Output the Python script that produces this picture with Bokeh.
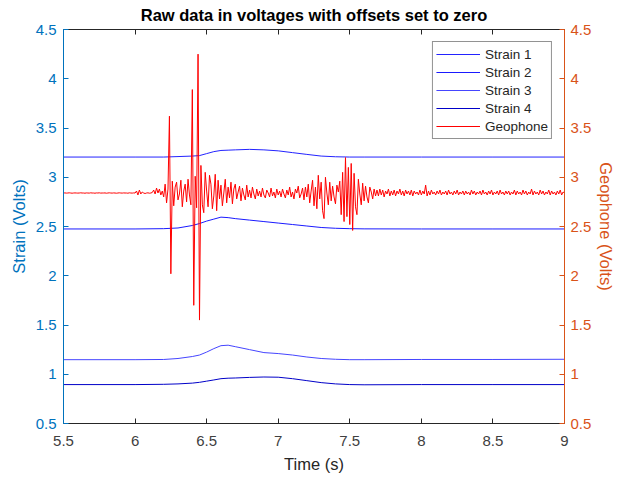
from bokeh.plotting import figure
from bokeh.models import Range1d, LinearAxis, Legend, LegendItem, FixedTicker
from bokeh.embed import file_html
from bokeh.resources import INLINE
import numpy as np

# ---- data -------------------------------------------------------------
# strain gauge traces, sampled at these times (s)
strain_t = [5.5, 6.0, 6.2, 6.3, 6.4, 6.45, 6.5, 6.55, 6.6, 6.65, 6.7, 6.8,
            6.9, 7.0, 7.1, 7.2, 7.3, 7.4, 7.5, 7.6, 8.0, 8.5, 9.0]
strain_1 = [3.205, 3.205, 3.205, 3.21, 3.215, 3.22, 3.24, 3.26, 3.272, 3.275, 3.278, 3.283,
            3.278, 3.268, 3.25, 3.232, 3.215, 3.208, 3.205, 3.205, 3.205, 3.205, 3.205]
strain_2 = [2.475, 2.475, 2.478, 2.485, 2.51, 2.53, 2.555, 2.575, 2.595, 2.59, 2.58, 2.565,
            2.55, 2.535, 2.52, 2.505, 2.49, 2.482, 2.478, 2.476, 2.475, 2.475, 2.475]
strain_3 = [1.148, 1.148, 1.15, 1.16, 1.18, 1.195, 1.225, 1.26, 1.29, 1.295, 1.28, 1.25,
            1.22, 1.21, 1.195, 1.175, 1.16, 1.152, 1.148, 1.148, 1.15, 1.15, 1.152]
strain_4 = [0.895, 0.895, 0.898, 0.902, 0.91, 0.918, 0.93, 0.942, 0.955, 0.96, 0.962, 0.968,
            0.972, 0.97, 0.955, 0.935, 0.915, 0.902, 0.895, 0.893, 0.895, 0.895, 0.895]

# geophone trace, one sample every 10 ms starting at 5.50 s
geo_start = 5.5
geo_dt = 0.01
geo_quiet = [2.84, 2.841, 2.839, 2.84, 2.842, 2.84, 2.838, 2.84, 2.841, 2.84,
             2.839, 2.84, 2.842, 2.84, 2.84, 2.838, 2.841, 2.84, 2.839, 2.842,
             2.84, 2.84, 2.838, 2.841, 2.84, 2.842, 2.839, 2.84, 2.84, 2.841,
             2.838, 2.84, 2.842, 2.84, 2.839, 2.841, 2.84, 2.838, 2.84, 2.842,
             2.84, 2.839, 2.841, 2.84, 2.84, 2.838, 2.842, 2.84, 2.839, 2.841]
geo_onset = [2.84, 2.86, 2.82, 2.87, 2.83, 2.85, 2.84, 2.835, 2.84, 2.842,
             2.838, 2.84, 2.845, 2.87, 2.83, 2.89, 2.84, 2.88, 2.82, 2.86]
geo_burst_1 = [2.80, 2.93, 2.74, 2.88, 3.62, 2.02, 2.96, 2.71, 2.90, 2.95,
               2.77, 2.83, 2.97, 2.70, 2.86, 2.93, 2.75, 2.98, 2.82, 2.72,
               3.89, 1.70, 3.01, 2.69, 4.25, 1.55, 3.12, 2.72, 2.64, 3.05,
               2.86, 2.70, 3.02, 2.93, 2.68, 2.81, 3.03, 2.66, 2.97, 2.78,
               2.92, 2.71, 2.84, 2.98, 2.74, 2.90, 2.79, 2.95, 2.73, 2.88,
               2.93, 2.78, 2.85, 2.91, 2.76, 2.89, 2.82, 2.77, 2.92, 2.80,
               2.87, 2.79, 2.90, 2.83, 2.78, 2.88, 2.81, 2.86, 2.80, 2.89,
               2.82, 2.79, 2.87, 2.84, 2.80, 2.89, 2.81, 2.85, 2.79, 2.88]
geo_between = [2.82, 2.86, 2.80, 2.88, 2.83, 2.79, 2.87, 2.82, 2.90, 2.80,
               2.85, 2.78, 2.88, 2.84, 2.91, 2.79, 2.83, 2.89, 2.77, 2.90]
geo_burst_2 = [2.80, 2.93, 2.74, 2.86, 2.97, 2.71, 2.90, 2.68, 3.02, 2.78,
               2.95, 2.66, 2.58, 3.00, 2.84, 2.72, 2.95, 2.76, 2.91, 2.80,
               2.73, 2.92, 2.85, 2.96, 2.62, 3.05, 2.55, 3.20, 2.60, 3.10,
               2.52, 3.14, 2.46, 3.04, 2.70, 2.62, 2.98, 2.83, 2.72, 2.94,
               2.76, 2.91, 2.80, 2.74, 2.90, 2.85, 2.78, 2.88, 2.81, 2.87]
geo_tail = [2.81, 2.88, 2.82, 2.87, 2.80, 2.86, 2.83, 2.88, 2.81, 2.86,
            2.82, 2.87, 2.81, 2.86, 2.83, 2.88, 2.82, 2.86, 2.81, 2.87,
            2.83, 2.86, 2.82, 2.87, 2.81, 2.86, 2.83, 2.85, 2.82, 2.87,
            2.82, 2.86, 2.83, 2.92, 2.81, 2.86, 2.82, 2.87, 2.83, 2.85,
            2.82, 2.86, 2.83, 2.87, 2.82, 2.85, 2.83, 2.86, 2.82, 2.87,
            2.83, 2.85, 2.82, 2.86, 2.83, 2.87, 2.82, 2.85, 2.83, 2.86,
            2.82, 2.86, 2.83, 2.85, 2.82, 2.87, 2.83, 2.86, 2.82, 2.85,
            2.83, 2.86, 2.82, 2.87, 2.83, 2.85, 2.82, 2.86, 2.83, 2.87,
            2.82, 2.85, 2.83, 2.86, 2.82, 2.87, 2.83, 2.85, 2.82, 2.86,
            2.83, 2.86, 2.82, 2.85, 2.83, 2.87, 2.82, 2.86, 2.83, 2.85,
            2.82, 2.87, 2.83, 2.86, 2.82, 2.85, 2.83, 2.88, 2.82, 2.86,
            2.83, 2.85, 2.82, 2.87, 2.83, 2.86, 2.82, 2.85, 2.83, 2.87,
            2.82, 2.86, 2.83, 2.85, 2.82, 2.86, 2.83, 2.87, 2.82, 2.85, 2.84]

x_ticks = [5.5, 6, 6.5, 7, 7.5, 8, 8.5, 9]
x_tick_labels = ["5.5", "6", "6.5", "7", "7.5", "8", "8.5", "9"]
y_ticks = [0.5, 1, 1.5, 2, 2.5, 3, 3.5, 4, 4.5]
y_tick_labels = ["0.5", "1", "1.5", "2", "2.5", "3", "3.5", "4", "4.5"]

# ---- assemble geophone series ------------------------------------------
geo_v = geo_quiet + geo_onset + geo_burst_1 + geo_between + geo_burst_2 + geo_tail
geo_t = geo_start + geo_dt * np.arange(len(geo_v))

# ---- styling -------------------------------------------------------------
FONT = "Liberation Sans"
LEFT_C = "#0072BD"
RIGHT_C = "#D95319"
DARK = "#262626"

p = figure(width=618, height=478,
           x_range=Range1d(5.5, 9), y_range=Range1d(0.5, 4.5),
           output_backend="svg", toolbar_location=None,
           min_border_left=63, min_border_right=54,
           min_border_top=29, min_border_bottom=55,
           background_fill_color="white", border_fill_color="white")
p.extra_y_ranges = {"geo": Range1d(0.5, 4.5)}
p.outline_line_color = None
p.xgrid.visible = False
p.ygrid.visible = False

p.title.text = "Raw data in voltages with offsets set to zero"
p.title.align = "center"
p.title.vertical_align = "top"
p.title.text_font = FONT
p.title.text_font_size = "16.5px"
p.title.text_font_style = "bold"
p.title.text_color = "black"
p.title.standoff = 8

x_over = dict(zip(x_ticks, x_tick_labels))
y_over = dict(zip(y_ticks, y_tick_labels))


def style_axis(ax, color, ticks, overrides):
    ax.ticker = FixedTicker(ticks=ticks)
    ax.major_label_overrides = overrides
    ax.axis_line_color = color
    ax.major_tick_line_color = color
    ax.major_tick_in = 5
    ax.major_tick_out = 0
    ax.minor_tick_line_color = None
    ax.major_label_text_color = color
    ax.major_label_text_font = FONT
    ax.major_label_text_font_size = "15px"
    ax.axis_label_text_color = color
    ax.axis_label_text_font = FONT
    ax.axis_label_text_font_size = "16.5px"
    ax.axis_label_text_font_style = "normal"


xa = p.xaxis[0]
style_axis(xa, DARK, x_ticks, x_over)
xa.major_label_text_color = "#404040"
xa.axis_label = "Time (s)"
xa.major_label_standoff = 12
xa.axis_label_standoff = 6

ya = p.yaxis[0]
style_axis(ya, LEFT_C, y_ticks, y_over)
ya.axis_label = "Strain (Volts)"
ya.major_label_standoff = 7
ya.axis_label_standoff = 5

# top edge of the box: ticks only, no labels
top_axis = LinearAxis()
style_axis(top_axis, DARK, x_ticks, x_over)
top_axis.major_label_text_font_size = "1px"
top_axis.major_label_text_color = None
top_axis.major_label_standoff = 0
p.add_layout(top_axis, "above")

right_axis = LinearAxis(y_range_name="geo")
style_axis(right_axis, RIGHT_C, y_ticks, y_over)
right_axis.axis_label = "Geophone (Volts)"
right_axis.major_label_standoff = 6
right_axis.axis_label_standoff = 3
p.add_layout(right_axis, "right")

# ---- traces --------------------------------------------------------------
r1 = p.line(strain_t, strain_1, line_color="#2323ff", line_width=1)
r2 = p.line(strain_t, strain_2, line_color="#1a1aff", line_width=1)
r3 = p.line(strain_t, strain_3, line_color="#4545ff", line_width=1)
r4 = p.line(strain_t, strain_4, line_color="#0000c8", line_width=1)
rg = p.line(geo_t, geo_v, line_color="#ff0000", line_width=1, y_range_name="geo")

legend = Legend(items=[
    LegendItem(label="Strain 1", renderers=[r1]),
    LegendItem(label="Strain 2", renderers=[r2]),
    LegendItem(label="Strain 3", renderers=[r3]),
    LegendItem(label="Strain 4", renderers=[r4]),
    LegendItem(label="Geophone", renderers=[rg]),
])
legend.location = "top_right"
legend.margin = 12
legend.padding = 3
legend.spacing = 0
legend.glyph_width = 44
legend.glyph_height = 18
legend.label_height = 18
legend.label_standoff = 5
legend.label_text_font = FONT
legend.label_text_font_size = "13.5px"
legend.label_text_color = DARK
legend.border_line_color = DARK
legend.border_line_width = 1
legend.background_fill_color = "white"
legend.background_fill_alpha = 1
p.add_layout(legend)

open("out.html", "w").write(file_html(p, INLINE))
